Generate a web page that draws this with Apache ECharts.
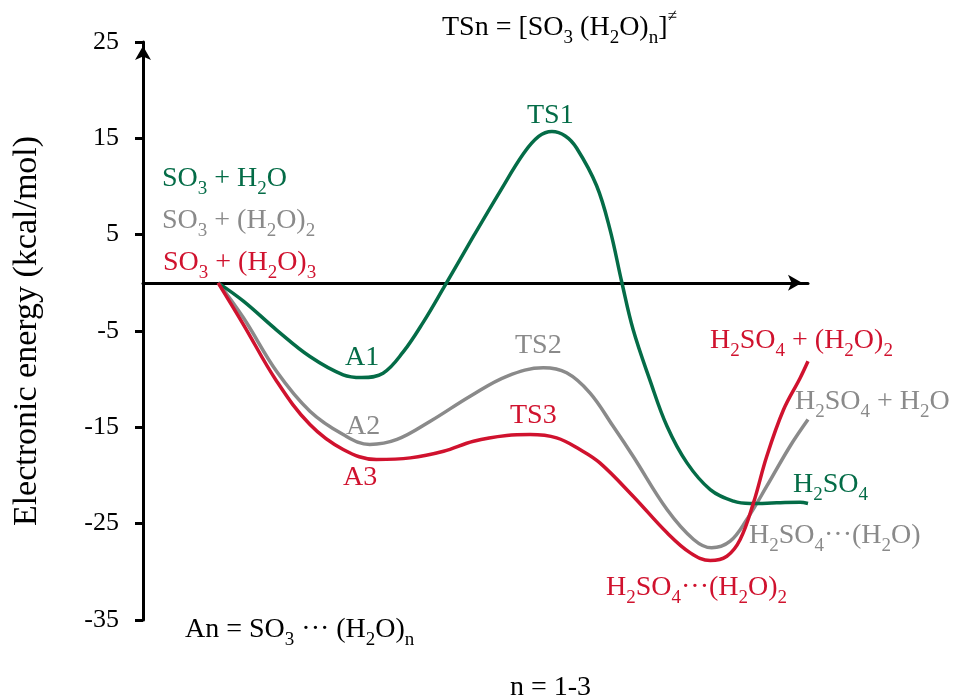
<!DOCTYPE html>
<html>
<head>
<meta charset="utf-8">
<script src="https://cdn.jsdelivr.net/npm/echarts@6/dist/echarts.min.js"></script>
<style>html,body{margin:0;padding:0;background:#fff}#c{width:960px;height:700px}</style>
</head>
<body>
<div id="c"></div>
<script>
// ---- data ----
const yTicks = [-35, -25, -15, -5, 5, 15, 25];
const greenX = [11.3,15.1,20.1,25.1,30.1,32.9,36.1,39.1,42.2,45.2,49.7,53.7,57.2,59.5,61.5,63.5,65.2,68.2,70.2,72.0,73.7,76.2,78.8,81.8,85.3,88.8,91.3,95.3,98.8,100];
const greenY = [0,-1.9,-4.9,-7.65,-9.55,-9.83,-9.38,-7.2,-4.02,-0.52,4.84,9.5,13.4,15.2,15.71,15.25,14.0,10.1,5.6,0.06,-4.85,-10.04,-14.89,-18.69,-21.46,-22.67,-22.91,-22.84,-22.78,-22.9];
const grayX = [11.3,15.1,20.1,25.1,30.1,34.1,38.2,43.2,49.2,54.7,60.2,63.7,67.2,70.7,73.7,78.8,82.8,85.5,88.3,90.8,93.8,97.3,100];
const grayY = [0,-3.63,-9.21,-13.33,-15.75,-16.78,-16.26,-14.37,-11.77,-9.70,-8.82,-9.34,-11.42,-14.89,-18.0,-23.53,-26.64,-27.51,-26.82,-24.57,-21.11,-16.96,-14.19];
const redX = [11.3,15.1,20.1,25.1,30.1,35.1,40.2,45.2,49.7,54.7,58.2,62.2,65.7,68.7,73.7,78.8,82.3,85.3,87.8,89.8,91.8,93.8,96.3,98.8,100];
const redY = [0,-4.33,-10.21,-14.71,-17.3,-18.34,-18.17,-17.48,-16.44,-15.85,-15.75,-16.09,-17.3,-18.69,-22.15,-25.95,-28.03,-28.83,-28.38,-26.65,-22.84,-18.0,-13.2,-9.9,-8.14];

const GREEN = '#046c47', GRAY = '#8a8a8a', RED = '#d0122e';
const FONT = 'Liberation Serif';

function zip(xs, ys){ return xs.map((x,i)=>[x, ys[i]]); }

// parse "SO_3 + H_2O" -> rich string; _c = subscript, ^c = superscript
function toRich(s){
  let out = '', buf = '';
  const flush = () => { if (buf) { out += '{m|' + buf + '}'; buf = ''; } };
  for (let i = 0; i < s.length; i++){
    const ch = s[i];
    if (ch === '_' || ch === '^'){
      flush();
      out += '{' + (ch === '_' ? 's' : 'p') + '|' + s[i+1] + '}';
      i++;
    } else buf += ch;
  }
  flush();
  return out;
}
function richStyles(color){
  return {
    m: {fontSize: 28, fontFamily: FONT, fill: color, lineHeight: 40, verticalAlign: 'middle'},
    s: {fontSize: 19, fontFamily: FONT, fill: color, lineHeight: 19, verticalAlign: 'bottom'},
    p: {fontSize: 17, fontFamily: FONT, fill: color, lineHeight: 17, verticalAlign: 'top'}
  };
}
function label(txt, x, y, color){
  return {
    type: 'text', x: x, y: y, silent: true, z: 10,
    style: {text: toRich(txt), rich: richStyles(color), fill: color, align: 'left', verticalAlign: 'middle',
            font: '28px "' + FONT + '"'}
  };
}

const labels = [
  ['TSn = [SO_3 (H_2O)_n]^≠', 442, 28, '#000'],
  ['SO_3 + H_2O', 162, 179, GREEN],
  ['SO_3 + (H_2O)_2', 162, 221, GRAY],
  ['SO_3 + (H_2O)_3', 163, 263, RED],
  ['TS1', 527, 116, GREEN],
  ['A1', 345, 358, GREEN],
  ['A2', 346, 427, GRAY],
  ['A3', 343, 478, RED],
  ['TS2', 515, 346, GRAY],
  ['TS3', 510, 416, RED],
  ['H_2SO_4 + (H_2O)_2', 710, 341, RED],
  ['H_2SO_4 + H_2O', 795, 402, GRAY],
  ['H_2SO_4', 793, 485, GREEN],
  ['H_2SO_4···(H_2O)', 749, 536, GRAY],
  ['H_2SO_4···(H_2O)_2', 606, 588, RED],
  ['An = SO_3 ··· (H_2O)_n', 185, 630, '#000'],
  ['n = 1-3', 510, 688, '#000']
];

const chart = echarts.init(document.getElementById('c'), null, {renderer: 'canvas'});
function line(name, xs, ys, color){
  return {type: 'line', name: name, data: zip(xs, ys), smooth: 0.38, showSymbol: false, symbol: 'none',
          lineStyle: {color: color, width: 3.5}, itemStyle: {color: color}, silent: true, clip: false};
}
chart.setOption({
  animation: false,
  backgroundColor: '#fff',
  grid: {left: 143, right: 152, top: 42, bottom: 80, containLabel: false},
  xAxis: {
    type: 'value', min: 0, max: 100,
    axisLine: {show: true, onZero: true, lineStyle: {color: '#000', width: 3}, symbol: ['none', 'arrow'], symbolSize: [12, 14], symbolOffset: [0, -6]},
    axisTick: {show: false}, axisLabel: {show: false}, splitLine: {show: false}
  },
  yAxis: {
    type: 'value', min: yTicks[0], max: yTicks[yTicks.length-1], interval: 10,
    name: 'Electronic energy (kcal/mol)', nameLocation: 'middle', nameGap: 99,
    nameTextStyle: {fontSize: 34, fontFamily: FONT, color: '#000'},
    axisLine: {show: true, onZero: false, lineStyle: {color: '#000', width: 3}, symbol: ['none', 'arrow'], symbolSize: [12, 14], symbolOffset: [0, -4]},
    axisTick: {show: true, inside: false, length: 8, lineStyle: {color: '#000', width: 3}},
    axisLabel: {fontSize: 26, fontFamily: FONT, color: '#000', margin: 24},
    splitLine: {show: false}
  },
  series: [
    line('n=2', grayX, grayY, GRAY),
    line('n=1', greenX, greenY, GREEN),
    line('n=3', redX, redY, RED)
  ],
  graphic: labels.map(l => label(l[0], l[1], l[2], l[3]))
});
</script>
</body>
</html>
